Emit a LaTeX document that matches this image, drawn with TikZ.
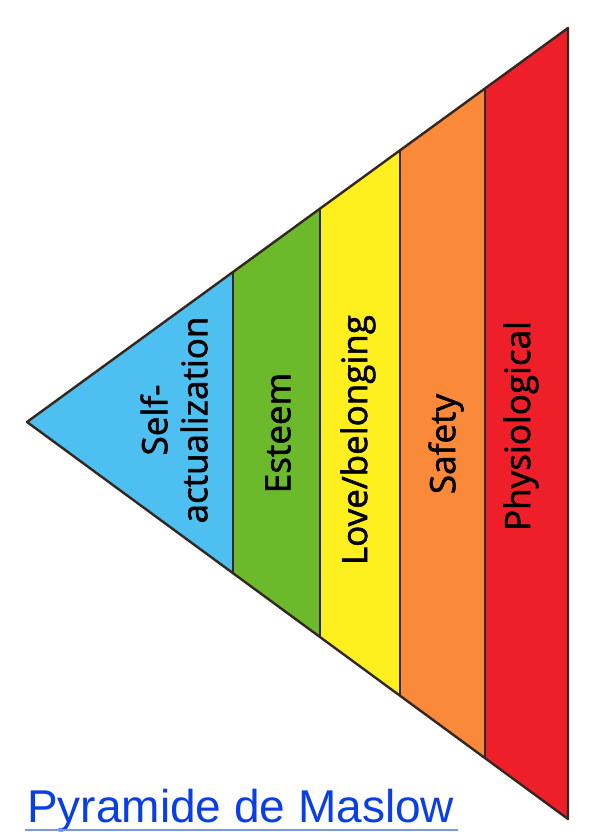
\documentclass[tikz,border=0pt]{standalone}
\usepackage{fontspec}
\usepackage{tikz}
\usepackage{xcolor}
\usetikzlibrary{calc}
\newfontfamily\lblfont[FakeBold=1.6]{Open Sans}
\newfontfamily\ttlfont{Liberation Sans}
\definecolor{selfblue}{HTML}{4DBFF0}
\definecolor{esteemgreen}{HTML}{6CB92B}
\definecolor{loveyellow}{HTML}{FEF01E}
\definecolor{safetyorange}{HTML}{FA8A3A}
\definecolor{physred}{HTML}{EF1F2A}
\definecolor{edgebrown}{HTML}{33271F}
\definecolor{linkblue}{HTML}{0A3FE6}
\definecolor{ulblue}{HTML}{7B97E6}

\begin{document}
\begin{tikzpicture}[x=1pt,y=-1pt,
  level/.style={draw=edgebrown,line width=2.4pt,line join=round},
  lbl/.style={rotate=90,font=\lblfont\fontsize{35}{40}\selectfont,align=center}]
\useasboundingbox (0,0) rectangle (597,832);
\fill[white] (0,0) rectangle (597,832);
% corners of the pyramid
\coordinate (apex) at (27,422);
\coordinate (tr) at (568,28);
\coordinate (br) at (568,819);
% band borders
\coordinate (t1) at ($(apex)!0.3808!(tr)$);
\coordinate (b1) at ($(apex)!0.3808!(br)$);
\coordinate (t2) at ($(apex)!0.5416!(tr)$);
\coordinate (b2) at ($(apex)!0.5416!(br)$);
\coordinate (t3) at ($(apex)!0.6895!(tr)$);
\coordinate (b3) at ($(apex)!0.6895!(br)$);
\coordinate (t4) at ($(apex)!0.8466!(tr)$);
\coordinate (b4) at ($(apex)!0.8466!(br)$);
\fill[selfblue] (apex) -- (t1) -- (b1) -- cycle;
\fill[esteemgreen] (t1) -- (t2) -- (b2) -- (b1) -- cycle;
\fill[loveyellow] (t2) -- (t3) -- (b3) -- (b2) -- cycle;
\fill[safetyorange] (t3) -- (t4) -- (b4) -- (b3) -- cycle;
\fill[physred] (t4) -- (tr) -- (br) -- (b4) -- cycle;
\draw[level] (apex) -- (tr) -- (br) -- cycle;
\draw[level] (t1) -- (b1);
\draw[level] (t2) -- (b2);
\draw[level] (t3) -- (b3);
\draw[level] (t4) -- (b4);
\node[lbl] (selfact) at (174,420) {Self-\\actualization};
\node[lbl] (esteem) at (278,433) {Esteem};
\node[lbl] (love) at (358,440) {Love/belonging};
\node[lbl] (safety) at (446,444) {Safety};
\node[lbl] (physio) at (521,426) {Physiological};
% title
\node[anchor=base west,inner sep=0pt,text=linkblue,font=\ttlfont\fontsize{46}{50}\selectfont] (title) at (27,822) {Pyramide de Maslow};
\draw[ulblue,line width=1.3pt] (25,830) -- (458,830);
\end{tikzpicture}
\end{document}
